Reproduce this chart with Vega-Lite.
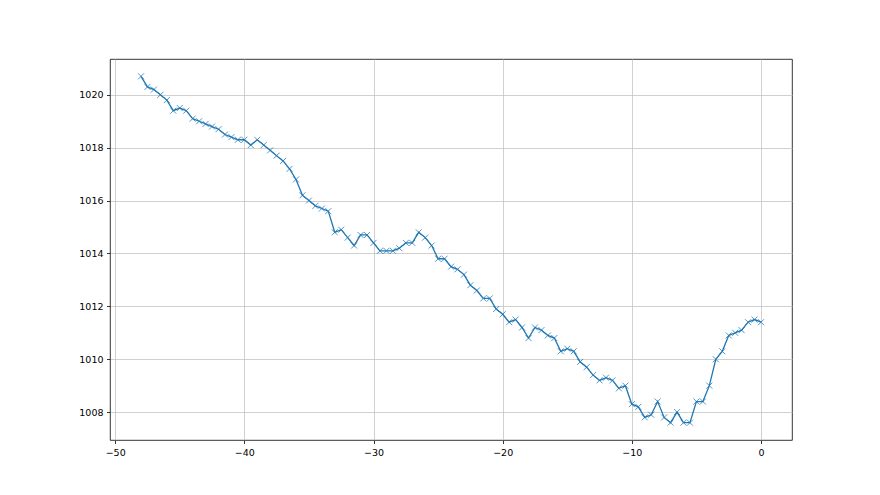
{
  "$schema": "https://vega.github.io/schema/vega-lite/v6.json",
  "width": 682,
  "height": 381,
  "autosize": {"type": "none"},
  "padding": {"left": 110, "top": 59, "right": 88, "bottom": 55},
  "background": "white",
  "config": {
    "view": {"stroke": "black", "strokeWidth": 0.8},
    "axis": {
      "labelFont": "DejaVu Sans",
      "labelFontSize": 9.5,
      "labelColor": "black",
      "tickColor": "black",
      "tickSize": 3.5,
      "tickWidth": 0.8,
      "labelPadding": 3.5,
      "domain": false,
      "grid": true,
      "gridColor": "#c4c4c4",
      "gridWidth": 0.8,
      "title": null
    }
  },
  "data": {
    "values": [
      {"x": -48, "y": 1020.7}, {"x": -47.5, "y": 1020.3}, {"x": -47, "y": 1020.2}, {"x": -46.5, "y": 1020.0},
      {"x": -46, "y": 1019.8}, {"x": -45.5, "y": 1019.4}, {"x": -45, "y": 1019.5}, {"x": -44.5, "y": 1019.4},
      {"x": -44, "y": 1019.1}, {"x": -43.5, "y": 1019.0}, {"x": -43, "y": 1018.9}, {"x": -42.5, "y": 1018.8},
      {"x": -42, "y": 1018.7}, {"x": -41.5, "y": 1018.5}, {"x": -41, "y": 1018.4}, {"x": -40.5, "y": 1018.3},
      {"x": -40, "y": 1018.3}, {"x": -39.5, "y": 1018.1}, {"x": -39, "y": 1018.3}, {"x": -38.5, "y": 1018.1},
      {"x": -38, "y": 1017.9}, {"x": -37.5, "y": 1017.7}, {"x": -37, "y": 1017.5}, {"x": -36.5, "y": 1017.2},
      {"x": -36, "y": 1016.8}, {"x": -35.5, "y": 1016.2}, {"x": -35, "y": 1016.0}, {"x": -34.5, "y": 1015.8},
      {"x": -34, "y": 1015.7}, {"x": -33.5, "y": 1015.6}, {"x": -33, "y": 1014.8}, {"x": -32.5, "y": 1014.9},
      {"x": -32, "y": 1014.6}, {"x": -31.5, "y": 1014.3}, {"x": -31, "y": 1014.7}, {"x": -30.5, "y": 1014.7},
      {"x": -30, "y": 1014.4}, {"x": -29.5, "y": 1014.1}, {"x": -29, "y": 1014.1}, {"x": -28.5, "y": 1014.1},
      {"x": -28, "y": 1014.2}, {"x": -27.5, "y": 1014.4}, {"x": -27, "y": 1014.4}, {"x": -26.5, "y": 1014.8},
      {"x": -26, "y": 1014.6}, {"x": -25.5, "y": 1014.3}, {"x": -25, "y": 1013.8}, {"x": -24.5, "y": 1013.8},
      {"x": -24, "y": 1013.5}, {"x": -23.5, "y": 1013.4}, {"x": -23, "y": 1013.2}, {"x": -22.5, "y": 1012.8},
      {"x": -22, "y": 1012.6}, {"x": -21.5, "y": 1012.3}, {"x": -21, "y": 1012.3}, {"x": -20.5, "y": 1011.9},
      {"x": -20, "y": 1011.7}, {"x": -19.5, "y": 1011.4}, {"x": -19, "y": 1011.5}, {"x": -18.5, "y": 1011.2},
      {"x": -18, "y": 1010.8}, {"x": -17.5, "y": 1011.2}, {"x": -17, "y": 1011.1}, {"x": -16.5, "y": 1010.9},
      {"x": -16, "y": 1010.8}, {"x": -15.5, "y": 1010.3}, {"x": -15, "y": 1010.4}, {"x": -14.5, "y": 1010.3},
      {"x": -14, "y": 1009.9}, {"x": -13.5, "y": 1009.7}, {"x": -13, "y": 1009.4}, {"x": -12.5, "y": 1009.2},
      {"x": -12, "y": 1009.3}, {"x": -11.5, "y": 1009.2}, {"x": -11, "y": 1008.9}, {"x": -10.5, "y": 1009.0},
      {"x": -10, "y": 1008.3}, {"x": -9.5, "y": 1008.2}, {"x": -9, "y": 1007.8}, {"x": -8.5, "y": 1007.9},
      {"x": -8, "y": 1008.4}, {"x": -7.5, "y": 1007.8}, {"x": -7, "y": 1007.6}, {"x": -6.5, "y": 1008.0},
      {"x": -6, "y": 1007.6}, {"x": -5.5, "y": 1007.6}, {"x": -5, "y": 1008.4}, {"x": -4.5, "y": 1008.4},
      {"x": -4, "y": 1009.0}, {"x": -3.5, "y": 1010.0}, {"x": -3, "y": 1010.3}, {"x": -2.5, "y": 1010.9},
      {"x": -2, "y": 1011.0}, {"x": -1.5, "y": 1011.1}, {"x": -1, "y": 1011.4}, {"x": -0.5, "y": 1011.5},
      {"x": 0, "y": 1011.4}
    ]
  },
  "encoding": {
    "x": {
      "field": "x", "type": "quantitative",
      "scale": {"domain": [-50.4, 2.4], "nice": false, "zero": false},
      "axis": {"values": [-50, -40, -30, -20, -10, 0], "format": "d"}
    },
    "y": {
      "field": "y", "type": "quantitative",
      "scale": {"domain": [1006.945, 1021.355], "nice": false, "zero": false},
      "axis": {"values": [1008, 1010, 1012, 1014, 1016, 1018, 1020], "format": "d"}
    }
  },
  "layer": [
    {"mark": {"type": "line", "color": "#1f77b4", "strokeWidth": 1.3}},
    {"mark": {"type": "point", "shape": "M-1,-1L1,1M-1,1L1,-1", "filled": false, "color": "#1f77b4", "strokeWidth": 0.9, "size": 36, "opacity": 0.85}}
  ]
}
